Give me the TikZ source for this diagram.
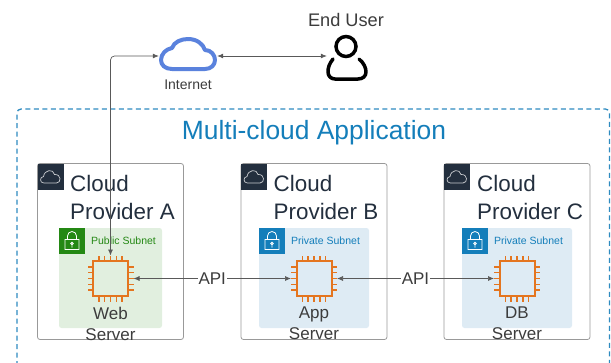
\documentclass[tikz,border=0pt]{standalone}
\usepackage{fontspec}
\setmainfont{Liberation Sans}
\usetikzlibrary{arrows.meta}

\definecolor{cloudblue}{HTML}{5A82DD}
\definecolor{framblue}{HTML}{2E8BC0}
\definecolor{titleblue}{HTML}{147EBA}
\definecolor{darkslate}{HTML}{232F3E}
\definecolor{pubgreen}{HTML}{248814}
\definecolor{pubfill}{HTML}{E1EFDF}
\definecolor{privfill}{HTML}{DEEBF4}
\definecolor{chiporange}{HTML}{E4751F}
\definecolor{textgray}{HTML}{3C3C3C}

\tikzset{
  providerbox/.style={draw=gray!80, line width=0.8pt, rounded corners=2.5pt, minimum width=146pt, minimum height=176pt},
  tagbox/.style={minimum size=26pt, inner sep=0pt},
  subnetbox/.style={rounded corners=2.5pt, minimum width=110pt, minimum height=100pt},
  providertext/.style={anchor=north west, align=left, text=darkslate, font=\fontsize{22.4}{28}\selectfont, inner sep=0pt},
  subnettext/.style={font=\fontsize{10.5}{12}\selectfont, inner sep=0pt},
  servertext/.style={align=center, text=textgray, font=\fontsize{17}{21}\selectfont, inner sep=0pt},
  apitext/.style={fill=white, text=textgray, font=\fontsize{17}{21}\selectfont, inner sep=1pt},
  chipbox/.style={draw=chiporange, line width=2pt, minimum size=35pt, inner sep=0pt, outer sep=5.5pt},
  chippin/.style={draw=chiporange, line width=1.5pt},
  link/.style={draw=black!65, line width=0.7pt, {Latex[length=6pt,width=5pt]}-{Latex[length=6pt,width=5pt]}},
}

% chip body with pins: name, x, y
\newcommand{\chipnode}[3]{
  \node[chipbox] (#1) at (#2, #3) {};
  \foreach \d in {-11.6, -5.8, 0, 5.8, 11.6} {
    \draw[chippin] (#2+\d, #3-18) -- (#2+\d, #3-23);
    \draw[chippin] (#2+\d, #3+18) -- (#2+\d, #3+23);
    \draw[chippin] (#2-18, #3+\d) -- (#2-23, #3+\d);
    \draw[chippin] (#2+18, #3+\d) -- (#2+23, #3+\d);
  }
}
% small white cloud in the corner tag: x, y of the tag centre
\newcommand{\tagcloud}[2]{
  \draw[white!75!darkslate, line width=0.7pt, shift={(#1, #2)}]
    (-6.5, 6.5) .. controls (-11, 6.5) and (-11, 0.5) .. (-7, 0)
    .. controls (-6, -7) and (3, -8) .. (4, -2)
    .. controls (11, -2.5) and (11, 6.5) .. (6, 6.5) -- cycle;
}
% padlock in the subnet tag: x, y of the tag centre
\newcommand{\taglock}[2]{
  \draw[white, line width=0.8pt, shift={(#1, #2)}]
    (-7, -1.5) rectangle (7, 8.5)
    (-4.5, -1.5) -- (-4.5, -5) arc[start angle=180, end angle=360, radius=4.5] -- (4.5, -1.5)
    (0, 2.5) circle[radius=1.3] (0, 3.8) -- (0, 6.5);
}

\begin{document}
\begin{tikzpicture}[x=1pt, y=-1pt]
\useasboundingbox (0, 0) rectangle (611, 362);
\clip (0, 0) rectangle (611, 362);

% outer frame
\draw[framblue, line width=1.3pt, dash pattern=on 5pt off 3.5pt, rounded corners=4pt] (17, 400) -- (17, 109) -- (609.5, 109) -- (609.5, 400);
\node[text=titleblue, font=\fontsize{26.4}{30}\selectfont, inner sep=0pt] (apptitle) at (314, 133) {Multi-cloud Application};

% top row
\node[minimum width=58pt, minimum height=38pt, inner sep=0pt] (internet) at (188, 56) {};
\draw[cloudblue, line width=4pt, line join=round]
  (172, 69) .. controls (165, 69) and (161, 65) .. (161, 60)
  .. controls (161, 54) and (166, 49) .. (172, 48)
  .. controls (174, 42) and (181, 39) .. (188, 39)
  .. controls (197, 39) and (203, 44) .. (205, 50)
  .. controls (211, 50) and (215, 55) .. (215, 60)
  .. controls (215, 65) and (211, 69) .. (205, 69) -- cycle;
\node[text=textgray, font=\fontsize{14}{16}\selectfont, inner sep=0pt] (internettext) at (188, 85) {Internet};

\node[minimum width=40pt, minimum height=48pt, inner sep=0pt] (enduser) at (347, 56) {};
\draw[black, line width=3.5pt] (346, 46.5) circle[radius=10];
\draw[black, line width=3.5pt, line cap=round, line join=round]
  (333, 59) .. controls (329, 64) and (328, 68) .. (328, 72)
  .. controls (328, 76) and (331, 79) .. (335, 79) -- (358, 79)
  .. controls (363, 79) and (366, 76) .. (366, 72)
  .. controls (366, 68) and (364, 63) .. (359, 59);
\node[text=textgray, font=\fontsize{18.2}{21}\selectfont, inner sep=0pt] (endusertext) at (346, 20) {End User};

% provider A
\node[providerbox] (providerA) at (110.5, 251.5) {};
\node[tagbox, fill=darkslate] (tagA) at (50.5, 176.5) {};
\tagcloud{50.5}{176.5}
\node[subnetbox, fill=pubfill, minimum width=103pt] (subnetA) at (110.5, 278) {};
\node[tagbox, fill=pubgreen] (lockA) at (72, 241) {};
\taglock{72}{241}
\node[subnettext, text=pubgreen] (subnettextA) at (123.5, 241) {Public Subnet};
\node[providertext] (providertextA) at (70, 175) {Cloud\\Provider A};
\chipnode{chipA}{110.5}{278.5}
\node[servertext] (servertextA) at (110.5, 323.5) {Web\\Server};

% provider B
\node[providerbox] (providerB) at (314, 251.5) {};
\node[tagbox, fill=darkslate] (tagB) at (254, 176.5) {};
\tagcloud{254}{176.5}
\node[subnetbox, fill=privfill] (subnetB) at (314, 278) {};
\node[tagbox, fill=titleblue] (lockB) at (272, 241) {};
\taglock{272}{241}
\node[subnettext, text=titleblue] (subnettextB) at (325.5, 241) {Private Subnet};
\node[providertext] (providertextB) at (273.5, 175) {Cloud\\Provider B};
\chipnode{chipB}{314}{278.5}
\node[servertext] (servertextB) at (314, 323.5) {App\\Server};

% provider C
\node[providerbox] (providerC) at (517, 251.5) {};
\node[tagbox, fill=darkslate] (tagC) at (457, 176.5) {};
\tagcloud{457}{176.5}
\node[subnetbox, fill=privfill] (subnetC) at (517, 278) {};
\node[tagbox, fill=titleblue] (lockC) at (475, 241) {};
\taglock{475}{241}
\node[subnettext, text=titleblue] (subnettextC) at (528.5, 241) {Private Subnet};
\node[providertext] (providertextC) at (477, 175) {Cloud\\Provider C};
\chipnode{chipC}{517}{278.5}
\node[servertext] (servertextC) at (517, 323.5) {DB\\Server};

% connectors
\draw[link, rounded corners=4pt] (chipA.north) |- (internet.west);
\draw[link] (internet.east) -- (enduser.west);
\draw[link] (chipA.east) -- node[apitext] (apiAB) {API} (chipB.west);
\draw[link] (chipB.east) -- node[apitext] (apiBC) {API} (chipC.west);

\end{tikzpicture}
\end{document}
